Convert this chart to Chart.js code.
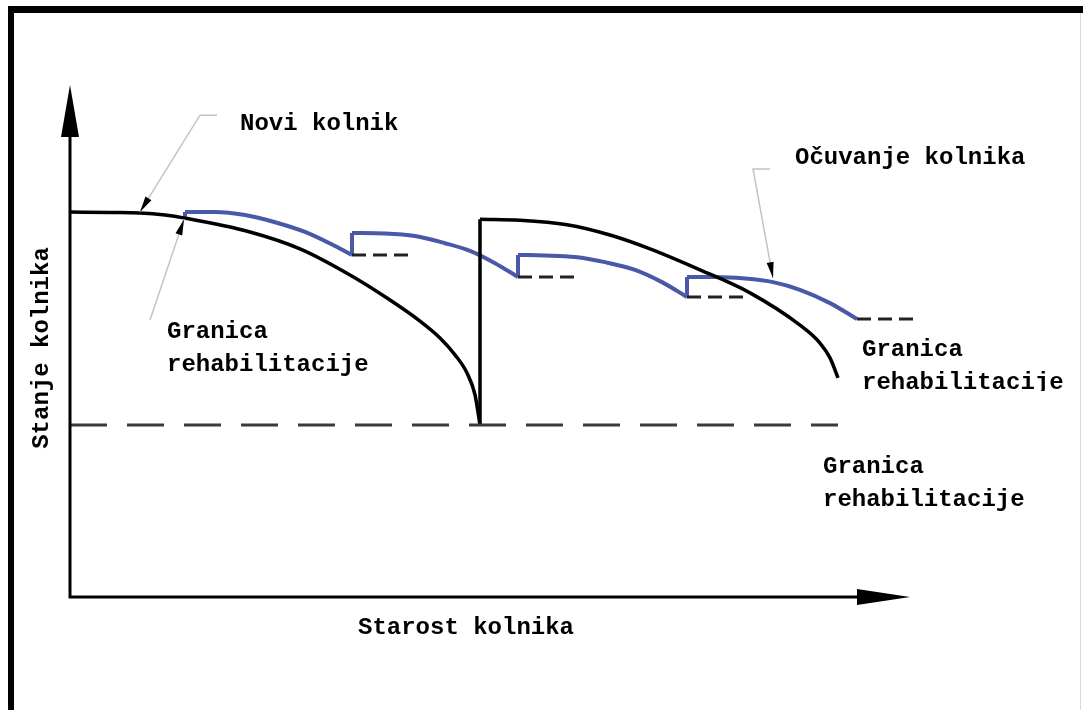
<!DOCTYPE html>
<html>
<head>
<meta charset="utf-8">
<script src="https://cdn.jsdelivr.net/npm/chart.js@4.4.1/dist/chart.umd.min.js"></script>
<style>
  html, body { margin: 0; padding: 0; background: #fff; }
  canvas { display: block; }
</style>
</head>
<body>
<canvas id="chart" width="1083" height="710"></canvas>
<script>
// age of pavement (x) and condition (y)
const newAge = [0, 2, 3.5, 4.75, 5.75, 9, 11.5, 14, 15.85, 17.5, 18.5, 19.25, 19.85, 20.25, 20.5];
const newCond = [75.2, 75.1, 75.0, 74.6, 74.0, 71.3, 68.0, 62.9, 58.4, 53.9, 50.6, 47.3, 43.75, 39.5, 33.6];

const resetAge = [20.5, 20.5];
const resetCond = [33.6, 73.8];

const rehabAge = [20.5, 22.5, 24.85, 27, 29, 31.5, 34, 36.5, 37.5, 38.0, 38.4];
const rehabCond = [73.8, 73.6, 72.7, 70.7, 68.0, 63.9, 59.4, 53.1, 49.6, 46.7, 42.8];

// preservation treatments (blue), one list per cycle
const presAge = [
  [5.75, 7.25, 8.75, 10.25, 11.75, 13.25, 14.1],
  [14.1, 15.75, 17.25, 18.75, 20, 21.25, 22.4],
  [22.4, 23.75, 25.25, 26.75, 28.25, 29.6, 30.85],
  [30.85, 32.25, 33.75, 35.15, 36.5, 38, 39.35]
];
const presCond = [
  [75.2, 75.2, 74.6, 73.2, 71.3, 68.55, 66.8],
  [71.1, 71.0, 70.5, 69.1, 67.6, 65.2, 62.5],
  [66.8, 66.7, 66.4, 65.4, 63.9, 61.5, 58.6],
  [62.5, 62.5, 62.2, 61.5, 60.0, 57.4, 54.3]
];
const treatAge = [5.75, 14.1, 22.4, 30.85];
const treatFrom = [74.0, 66.8, 62.5, 58.6];
const treatTo = [75.2, 71.1, 66.8, 62.5];

// trigger levels (short dashes) where treatment is applied
const trigAge = [14.1, 22.4, 30.85, 39.35];
const trigCond = [66.8, 62.5, 58.6, 54.3];
const trigLen = 2.8;

const limitAge = [0, 38.4];
const limitCond = 33.6;

const BLUE = "#4a58a8";
const FONT = "bold 24px 'Liberation Mono', 'Courier New', monospace";

function pts(xs, ys) {
  return xs.map((x, i) => ({ x: x, y: ys[i] }));
}

const datasets = [];

datasets.push({
  data: pts(limitAge, [limitCond, limitCond]),
  borderColor: "#3a3a3a", borderWidth: 3, borderDash: [37, 20]
});

trigAge.forEach((a, i) => {
  datasets.push({
    data: pts([a, a + trigLen], [trigCond[i], trigCond[i]]),
    borderColor: "#222", borderWidth: 3, borderDash: [14, 7], clip: false
  });
});

datasets.push({ data: pts(newAge, newCond), borderColor: "#000", borderWidth: 3.5, cubicInterpolationMode: "monotone" });
datasets.push({ data: pts(resetAge, resetCond), borderColor: "#000", borderWidth: 3.5 });
datasets.push({ data: pts(rehabAge, rehabCond), borderColor: "#000", borderWidth: 3.5, cubicInterpolationMode: "monotone" });

presAge.forEach((ages, i) => {
  datasets.push({ data: pts(ages, presCond[i]), borderColor: BLUE, borderWidth: 4, cubicInterpolationMode: "monotone" });
});
treatAge.forEach((a, i) => {
  datasets.push({ data: pts([a, a], [treatFrom[i], treatTo[i]]), borderColor: BLUE, borderWidth: 4 });
});

datasets.forEach(d => {
  d.showLine = true;
  d.pointRadius = 0;
  d.fill = false;
});

// annotation labels in data units
const labels = [
  { text: ["Novi kolnik"], x: 8.5, y: 92.4 },
  { text: ["Očuvanje kolnika"], x: 36.25, y: 85.7 },
  { text: ["Granica", "rehabilitacije"], x: 4.85, y: 51.8 },
  { text: ["Granica", "rehabilitacije"], x: 39.6, y: 48.2, clipBelow: 391 },
  { text: ["Granica", "rehabilitacije"], x: 37.65, y: 25.4 }
];

// leader lines: [start of short tick, corner, arrow tip]
const leaders = [
  { from: [7.35, 94.1], corner: [6.5, 94.1], tip: [3.5, 75.2] },
  { from: null, corner: [4.0, 54.1], tip: [5.7, 73.8] },
  { from: [35.0, 83.6], corner: [34.15, 83.6], tip: [35.15, 62.3] }
];

function arrowHead(ctx, x1, y1, x2, y2, len, half) {
  const a = Math.atan2(y2 - y1, x2 - x1);
  ctx.beginPath();
  ctx.moveTo(x2, y2);
  ctx.lineTo(x2 - len * Math.cos(a) + half * Math.sin(a), y2 - len * Math.sin(a) - half * Math.cos(a));
  ctx.lineTo(x2 - len * Math.cos(a) - half * Math.sin(a), y2 - len * Math.sin(a) + half * Math.cos(a));
  ctx.closePath();
  ctx.fill();
}

const decor = {
  id: "decor",
  beforeDraw(chart) {
    const ctx = chart.ctx;
    ctx.save();
    ctx.fillStyle = "#fff";
    ctx.fillRect(0, 0, chart.width, chart.height);
    // picture frame
    ctx.fillStyle = "#000";
    ctx.fillRect(8, 6, chart.width - 8, 7);
    ctx.fillRect(8, 6, 6, chart.height - 6);
    ctx.fillStyle = "#d8d8d8";
    ctx.fillRect(chart.width - 3, 13, 1, chart.height - 13);
    ctx.restore();
  },
  afterDatasetsDraw(chart) {
    const ctx = chart.ctx;
    const xs = chart.scales.x, ys = chart.scales.y;
    const ca = chart.chartArea;
    const x0 = xs.getPixelForValue(0), y0 = ys.getPixelForValue(0);
    ctx.save();

    // axes with arrows
    ctx.strokeStyle = "#000";
    ctx.fillStyle = "#000";
    ctx.lineWidth = 3;
    ctx.beginPath();
    ctx.moveTo(x0, ca.top + 40);
    ctx.lineTo(x0, y0);
    ctx.lineTo(ca.right - 45, y0);
    ctx.stroke();
    arrowHead(ctx, x0, y0, x0, ca.top, 52, 9);
    arrowHead(ctx, x0, y0, ca.right, y0, 53, 8);

    // leader lines
    leaders.forEach(l => {
      const cx = xs.getPixelForValue(l.corner[0]), cy = ys.getPixelForValue(l.corner[1]);
      const tx = xs.getPixelForValue(l.tip[0]), ty = ys.getPixelForValue(l.tip[1]);
      ctx.strokeStyle = "#c4c4c4";
      ctx.lineWidth = 1.5;
      ctx.beginPath();
      if (l.from) {
        ctx.moveTo(xs.getPixelForValue(l.from[0]), ys.getPixelForValue(l.from[1]));
        ctx.lineTo(cx, cy);
      } else {
        ctx.moveTo(cx, cy);
      }
      ctx.lineTo(tx, ty);
      ctx.stroke();
      ctx.fillStyle = "#000";
      arrowHead(ctx, cx, cy, tx, ty, 16, 3.5);
    });

    // text labels
    ctx.font = FONT;
    ctx.fillStyle = "#000";
    ctx.textBaseline = "middle";
    ctx.textAlign = "left";
    labels.forEach(lb => {
      const px = xs.getPixelForValue(lb.x), py = ys.getPixelForValue(lb.y);
      ctx.save();
      if (lb.clipBelow) {
        ctx.beginPath();
        ctx.rect(0, 0, chart.width, lb.clipBelow);
        ctx.clip();
      }
      lb.text.forEach((t, i) => ctx.fillText(t, px, py + i * 33));
      ctx.restore();
    });

    // axis titles
    ctx.textAlign = "center";
    ctx.fillText("Starost kolnika", (x0 + ca.right) / 2 - 24, y0 + 31);
    ctx.translate(42, (ca.top + y0) / 2 + 7);
    ctx.rotate(-Math.PI / 2);
    ctx.fillText("Stanje kolnika", 0, 0);
    ctx.restore();
  }
};

new Chart(document.getElementById("chart").getContext("2d"), {
  type: "scatter",
  data: { datasets: datasets },
  options: {
    responsive: false,
    animation: false,
    events: [],
    layout: { padding: { left: 70, right: 173, top: 85, bottom: 113 } },
    plugins: { legend: { display: false }, tooltip: { enabled: false } },
    scales: {
      x: { type: "linear", min: 0, max: 42, display: false },
      y: { type: "linear", min: 0, max: 100, display: false }
    }
  },
  plugins: [decor]
});
</script>
</body>
</html>
